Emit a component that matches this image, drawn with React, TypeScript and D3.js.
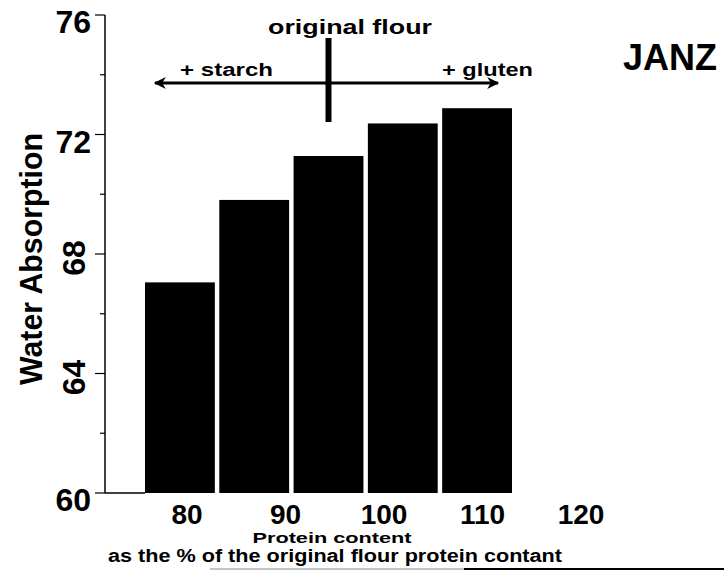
import React from "react";
import * as d3 from "d3";

const categories = ["c1", "c2", "c3", "c4", "c5"];
const values = [67.05, 69.81, 71.28, 72.37, 72.88];
const yMajorTicks = [76, 72, 68, 64, 60];
const yMinorTicks = [74, 70, 66, 62];
const xTickLabels = [80, 90, 100, 110, 120];
const originalCategory = "c3";

const W = 724;
const H = 571;
const FONT = "'Liberation Sans', Arial, sans-serif";

export default function App() {
  const y = d3.scaleLinear().domain([60, 76]).range([493, 15]);
  const x = d3.scaleBand<string>().domain(categories).range([145, 512]).paddingInner(0.06).paddingOuter(0);
  const xt = d3.scaleLinear().domain([80, 120]).range([187, 581]);
  const axisX = 105;
  const origX = (x(originalCategory) ?? 0) + x.bandwidth() / 2;
  const arrowY = 83;

  return (
    <svg width={W} height={H} viewBox={`0 0 ${W} ${H}`} style={{ position: "absolute", left: 0, top: 0, background: "#fff" }}>
      <defs>
        <marker id="ah" viewBox="0 0 10 10" refX="9" refY="5" markerWidth="4.5" markerHeight="4" orient="auto-start-reverse" markerUnits="strokeWidth">
          <path d="M0,0 L10,5 L0,10 L3,5 Z" fill="#000" />
        </marker>
      </defs>
      <rect width={W} height={H} fill="#fff" />
      {/* bars */}
      {categories.map((c, i) => (
        <rect key={c} x={x(c)} y={y(values[i])} width={x.bandwidth()} height={y(60) - y(values[i])} fill="#000" />
      ))}
      {/* y axis */}
      <line x1={axisX} x2={axisX} y1={y(76)} y2={y(60)} stroke="#000" strokeWidth={1.5} />
      <line x1={axisX} x2={145} y1={y(60)} y2={y(60)} stroke="#000" strokeWidth={1.5} />
      {yMajorTicks.map((t) => (
        <line key={"M" + t} x1={axisX - 10} x2={axisX} y1={y(t)} y2={y(t)} stroke="#000" strokeWidth={1.2} />
      ))}
      {yMinorTicks.map((t) => (
        <line key={"m" + t} x1={axisX - 5} x2={axisX} y1={y(t)} y2={y(t)} stroke="#000" strokeWidth={1.2} />
      ))}
      {yMajorTicks.map((t) => {
        const rotated = t === 68 || t === 64;
        if (rotated) {
          return (
            <text key={"l" + t} transform={`translate(85,${y(t) + 4}) rotate(-90)`} textAnchor="middle" fontFamily={FONT} fontWeight="bold" fontSize={32} fill="#000">
              {t}
            </text>
          );
        }
        return (
          <text key={"l" + t} x={91} y={y(t) + 18} textAnchor="end" fontFamily={FONT} fontWeight="bold" fontSize={32} fill="#000">
            {t}
          </text>
        );
      })}
      {/* y title */}
      <text transform="translate(42,259) rotate(-90)" textAnchor="middle" fontFamily={FONT} fontWeight="bold" fontSize={31} textLength={252} lengthAdjust="spacingAndGlyphs" fill="#000">
        Water Absorption
      </text>
      {/* x tick labels */}
      {xTickLabels.map((t) => (
        <text key={"x" + t} x={xt(t)} y={524} textAnchor="middle" fontFamily={FONT} fontWeight="bold" fontSize={28} fill="#000">
          {t}
        </text>
      ))}
      {/* x titles */}
      <text x={332} y={543} textAnchor="middle" fontFamily={FONT} fontWeight="bold" fontSize={14} textLength={159} lengthAdjust="spacingAndGlyphs" fill="#000">
        Protein content
      </text>
      <text x={335} y={562} textAnchor="middle" fontFamily={FONT} fontWeight="bold" fontSize={18} textLength={454} lengthAdjust="spacingAndGlyphs" fill="#000">
        as the % of the original flour protein contant
      </text>
      <line x1={210} x2={464} y1={569} y2={569} stroke="#888" strokeWidth={1} />
      <line x1={464} x2={724} y1={569} y2={569} stroke="#000" strokeWidth={2} />
      {/* annotation */}
      <text x={350} y={34} textAnchor="middle" fontFamily={FONT} fontWeight="bold" fontSize={20} textLength={164} lengthAdjust="spacingAndGlyphs" fill="#000">
        original flour
      </text>
      <line x1={origX} x2={origX} y1={38} y2={122} stroke="#000" strokeWidth={6} />
      <line x1={origX} x2={155} y1={arrowY} y2={arrowY} stroke="#000" strokeWidth={3} markerEnd="url(#ah)" />
      <line x1={origX} x2={498} y1={arrowY} y2={arrowY} stroke="#000" strokeWidth={3} markerEnd="url(#ah)" />
      <text x={180} y={76} fontFamily={FONT} fontWeight="bold" fontSize={18} textLength={93} lengthAdjust="spacingAndGlyphs" fill="#000">
        + starch
      </text>
      <text x={442} y={76} fontFamily={FONT} fontWeight="bold" fontSize={18} textLength={91} lengthAdjust="spacingAndGlyphs" fill="#000">
        + gluten
      </text>
      <text x={623} y={70} fontFamily={FONT} fontWeight="bold" fontSize={36} fill="#000">
        JANZ
      </text>
    </svg>
  );
}
